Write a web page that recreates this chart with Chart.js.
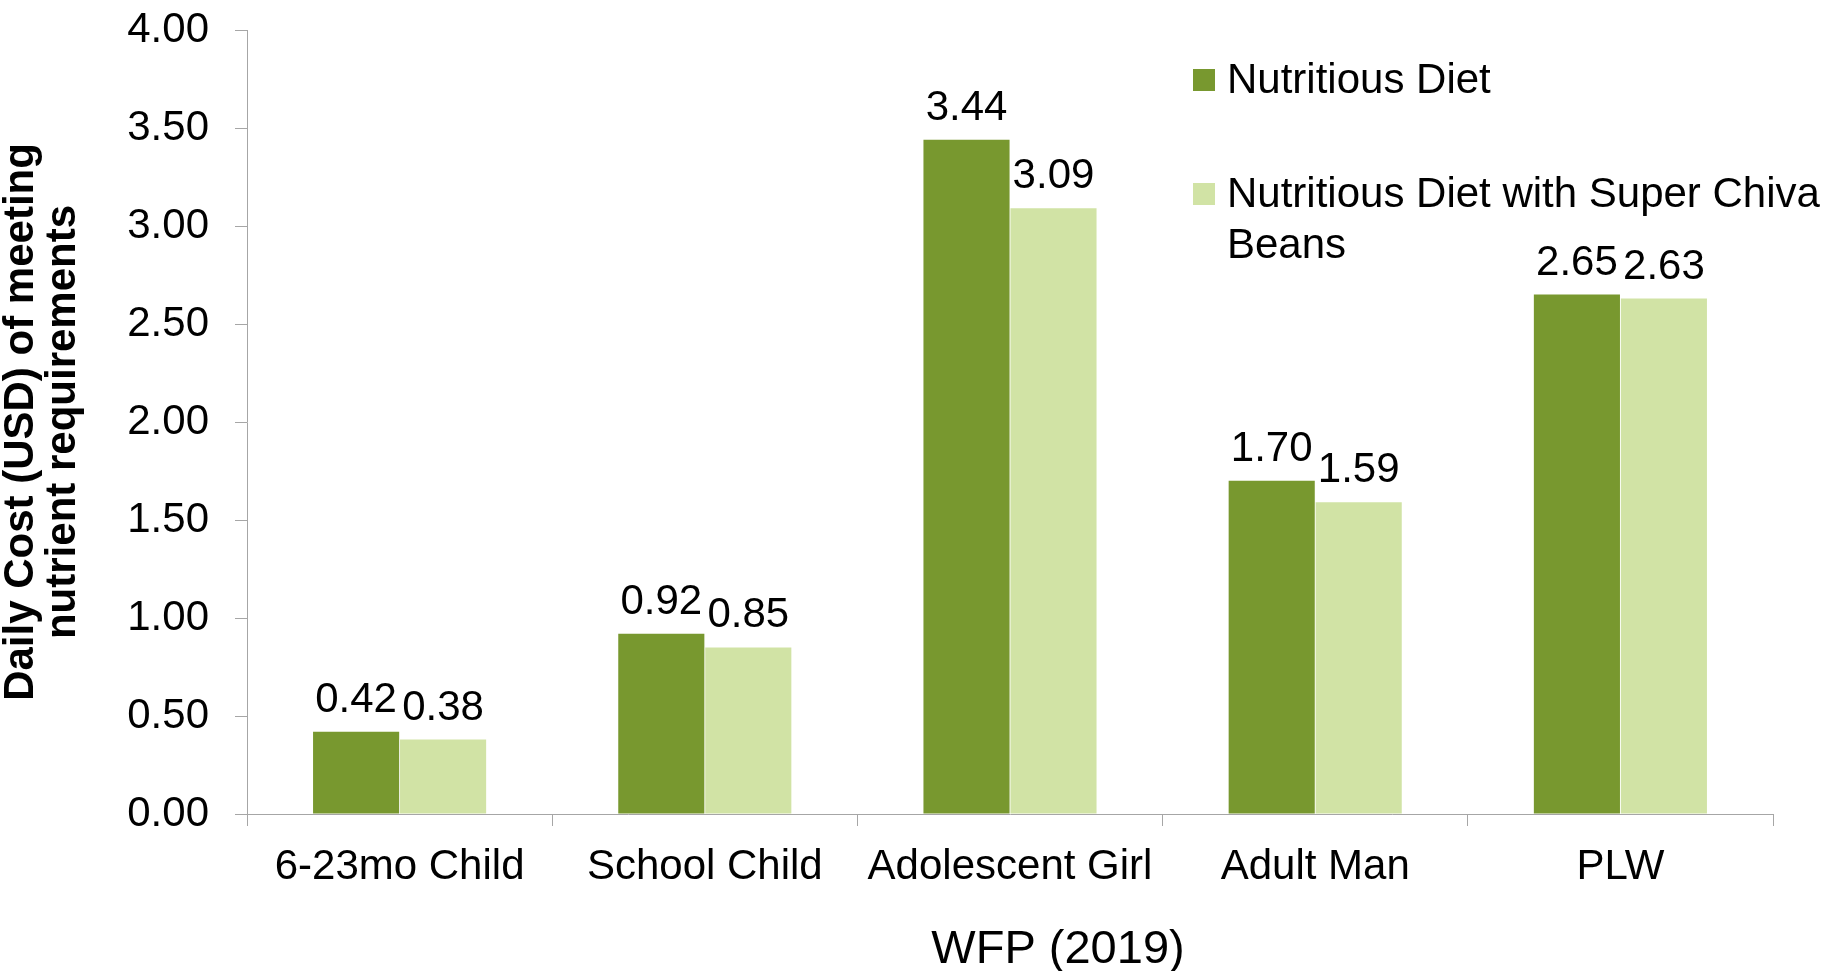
<!DOCTYPE html>
<html>
<head>
<meta charset="utf-8">
<title>Daily cost of meeting nutrient requirements</title>
<script src="https://cdn.jsdelivr.net/npm/chart.js@4.4.1/dist/chart.umd.min.js"></script>
<style>
  html, body { margin: 0; padding: 0; background: #fff; }
  #wrap { width: 1831px; height: 971px; }
</style>
</head>
<body>
<div id="wrap"><canvas id="cost"></canvas></div>
<script>
const groups = ['6-23mo Child', 'School Child', 'Adolescent Girl', 'Adult Man', 'PLW'];
const nutritiousDiet = [0.42, 0.92, 3.44, 1.70, 2.65];
const withChivaBeans = [0.38, 0.85, 3.09, 1.59, 2.63];
const yMin = 0, yMax = 4, yStep = 0.5;

const FONT = "'Liberation Sans', Arial, sans-serif";
const AXIS_GREY = '#A6A6A6';

// value printed above every bar
const valueLabels = {
  id: 'valueLabels',
  afterDatasetsDraw(chart) {
    const ctx = chart.ctx;
    ctx.save();
    ctx.font = '42px ' + FONT;
    ctx.fillStyle = '#000';
    ctx.textAlign = 'center';
    ctx.textBaseline = 'alphabetic';
    chart.data.datasets.forEach((ds, i) => {
      chart.getDatasetMeta(i).data.forEach((bar, j) => {
        ctx.fillText(ds.data[j].toFixed(2), bar.x, bar.y - 20);
      });
    });
    ctx.restore();
  }
};

// legend in the upper right, long labels wrap at the canvas edge
const sideLegend = {
  id: 'sideLegend',
  afterDraw(chart, args, opts) {
    const ctx = chart.ctx;
    ctx.save();
    ctx.font = opts.size + 'px ' + FONT;
    ctx.textAlign = 'left';
    ctx.textBaseline = 'alphabetic';
    const maxW = chart.width - opts.x - 4;
    let y = opts.y;
    chart.data.datasets.forEach(ds => {
      ctx.fillStyle = ds.backgroundColor;
      ctx.fillRect(opts.x - opts.box - opts.gap, y - 24, opts.box, opts.box);
      const lines = [];
      let line = '';
      ds.label.split(' ').forEach(w => {
        const t = line ? line + ' ' + w : w;
        if (line && ctx.measureText(t).width > maxW) {
          lines.push(line);
          line = w;
        } else {
          line = t;
        }
      });
      lines.push(line);
      ctx.fillStyle = '#000';
      lines.forEach((l, k) => ctx.fillText(l, opts.x, y + k * opts.lineHeight));
      y += (lines.length - 1) * opts.lineHeight + opts.itemGap;
    });
    ctx.restore();
  }
};

// source caption under the x axis
const bottomCaption = {
  id: 'bottomCaption',
  afterDraw(chart, args, opts) {
    const { ctx, chartArea } = chart;
    ctx.save();
    ctx.font = opts.size + 'px ' + FONT;
    ctx.fillStyle = '#000';
    ctx.textAlign = 'center';
    ctx.textBaseline = 'alphabetic';
    ctx.fillText(opts.text, (chartArea.left + chartArea.right) / 2 + opts.shift, chart.height - opts.bottom);
    ctx.restore();
  }
};

const costData = {
  labels: groups,
  datasets: [{
    label: 'Nutritious Diet',
    backgroundColor: '#78982F',
    data: nutritiousDiet,
  }, {
    label: 'Nutritious Diet with Super Chiva Beans',
    backgroundColor: '#D1E3A5',
    data: withChivaBeans,
  }]
};

const costConfig = {
  type: 'bar',
  data: costData,
  plugins: [valueLabels, sideLegend, bottomCaption],
  options: {
    responsive: true,
    maintainAspectRatio: false,
    animation: false,
    categoryPercentage: 0.57,
    barPercentage: 0.99,
    layout: {
      padding: { top: 30, right: 58, left: 0, bottom: 0 }
    },
    plugins: {
      legend: { display: false },
      tooltip: { enabled: false },
      sideLegend: { x: 1227, y: 93, box: 22, gap: 12, lineHeight: 51, itemGap: 114, size: 42 },
      bottomCaption: { text: 'WFP (2019)', size: 47, shift: 48, bottom: 8 }
    },
    scales: {
      x: {
        afterFit: scale => { scale.height = 157; },
        border: { color: AXIS_GREY, width: 1 },
        grid: {
          offset: true,
          drawOnChartArea: false,
          color: AXIS_GREY,
          tickLength: 12
        },
        ticks: {
          color: '#000',
          padding: 16,
          maxRotation: 0,
          font: { family: FONT, size: 42 }
        }
      },
      y: {
        min: yMin,
        max: yMax,
        afterFit: scale => {
          scale.width = 247;
          scale.paddingTop = 0;
          scale.paddingBottom = 0;
        },
        border: { color: AXIS_GREY, width: 1 },
        grid: {
          drawOnChartArea: false,
          color: AXIS_GREY,
          tickLength: 12
        },
        ticks: {
          stepSize: yStep,
          color: '#000',
          padding: 26,
          font: { family: FONT, size: 42 },
          callback: function(value) {
            return value.toFixed(2);
          }
        },
        title: {
          display: true,
          text: ['Daily Cost (USD) of meeting', 'nutrient requirements'],
          color: '#000',
          padding: { top: 0, bottom: 0 },
          font: { family: FONT, size: 42, weight: 'bold', lineHeight: 1.0 }
        }
      }
    }
  }
};

var costChart = new Chart(
  document.getElementById('cost'),
  costConfig
);
</script>
</body>
</html>
